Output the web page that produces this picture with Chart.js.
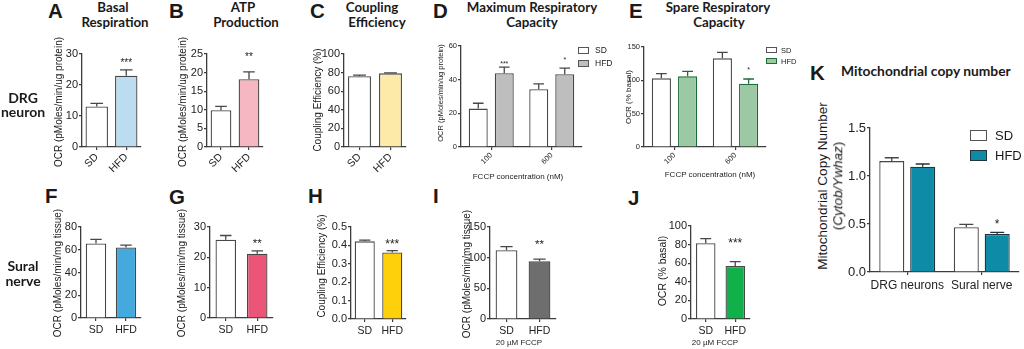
<!DOCTYPE html>
<html><head><meta charset="utf-8">
<script src="https://cdn.jsdelivr.net/npm/chart.js@4.4.1/dist/chart.umd.min.js"></script>
<style>
html,body{margin:0;padding:0;background:#fff;}
body{width:1024px;height:349px;position:relative;overflow:hidden;font-family:'Liberation Sans',Arial,sans-serif;color:#222;}
.t{position:absolute;white-space:nowrap;line-height:1;}
.r{position:absolute;white-space:nowrap;line-height:1;transform:translate(-50%,-50%) rotate(-90deg);}
.box{position:absolute;box-sizing:border-box;border:1px solid #555;}
canvas{position:absolute;}
</style></head><body>
<script>
// ---------- data ----------
const groupLabels = ['SD', 'HFD'];
const fccpLabels = ['100', '600'];
const tissueLabels = ['DRG neurons', 'Sural nerve'];

const drgBasal = [13.1, 23.0];
const drgBasalErr = [1.0, 1.9];
const drgATP = [9.9, 18.2];
const drgATPErr = [1.0, 2.0];
const drgCoupling = [76.2, 79.2];
const drgCouplingErr = [1.0, 0.6];
const drgMaxSD = [22.8, 34.3];
const drgMaxSDErr = [3.2, 3.2];
const drgMaxHFD = [43.8, 43.2];
const drgMaxHFDErr = [3.6, 3.6];
const drgSpareSD = [103, 133];
const drgSpareSDErr = [7, 9];
const drgSpareHFD = [106, 95];
const drgSpareHFDErr = [7.5, 7];

const suralBasal = [65.5, 62];
const suralBasalErr = [3.7, 2.0];
const suralATP = [25.8, 21.2];
const suralATPErr = [1.4, 0.9];
const suralCoupling = [0.422, 0.362];
const suralCouplingErr = [0.007, 0.010];
const suralMax = [112, 94];
const suralMaxErr = [6, 3.5];
const suralSpare = [81.4, 57];
const suralSpareErr = [5, 4.8];

const copySD = [1.155, 0.466];
const copySDErr = [0.035, 0.03];
const copyHFD = [1.097, 0.396];
const copyHFDErr = [0.028, 0.017];

// ---------- helpers ----------
const AX = '#3c3c3c';
function T(text, x, base, size, o = {}) {
  const d = document.createElement('div'); d.className = 't';
  const fam = o.fam || "'Liberation Sans'";
  const k = fam.includes('Lato') ? 0.887 : 0.847;
  d.style.fontFamily = fam; d.style.fontSize = size + 'px';
  d.style.fontWeight = o.w || 'normal'; d.style.color = o.c || '#1a1a1a';
  d.style.top = (base - k * size) + 'px';
  if (o.center) { d.style.left = (x - 200) + 'px'; d.style.width = '400px'; d.style.textAlign = 'center'; }
  else d.style.left = x + 'px';
  d.innerHTML = text; document.body.appendChild(d);
}
function R(text, cx, cy, size) {
  const d = document.createElement('div'); d.className = 'r';
  d.style.left = cx + 'px'; d.style.top = cy + 'px'; d.style.fontSize = size + 'px';
  d.style.color = '#1a1a1a';
  d.innerHTML = text; document.body.appendChild(d);
}
function B(x, y, w, h, bg, bd) {
  const d = document.createElement('div'); d.className = 'box';
  d.style.left = x + 'px'; d.style.top = y + 'px'; d.style.width = w + 'px'; d.style.height = h + 'px';
  d.style.background = bg; if (bd) d.style.borderColor = bd; document.body.appendChild(d);
}

function makeErrPlugin(p) {
  return {
    id: 'errs',
    afterDatasetsDraw(chart) {
      const ctx = chart.ctx, y = chart.scales.y;
      ctx.save();
      chart.data.datasets.forEach((ds, di) => {
        const meta = chart.getDatasetMeta(di);
        meta.data.forEach((bar, i) => {
          const v = ds.data[i], e = ds.errors[i];
          const y0 = y.getPixelForValue(v), y1 = y.getPixelForValue(v + e);
          const hw = bar.width * (p.cap || 0.28);
          ctx.strokeStyle = ds.borderColor; ctx.lineWidth = 1.3;
          ctx.beginPath();
          ctx.moveTo(bar.x, y0); ctx.lineTo(bar.x, y1);
          ctx.moveTo(bar.x - hw, y1); ctx.lineTo(bar.x + hw, y1);
          ctx.stroke();
        });
      });
      (p.sig || []).forEach(s => {
        const bar = chart.getDatasetMeta(s.ds).data[s.i];
        const py = y.getPixelForValue(s.at);
        const fs = p.sigSize || 11;
        ctx.fillStyle = '#222';
        ctx.font = fs + 'px "Liberation Sans"';
        ctx.textAlign = 'center'; ctx.textBaseline = 'alphabetic';
        ctx.fillText(s.text, bar.x, py + 0.57 * fs);
      });
      ctx.restore();
    }
  };
}

function panel(p) {
  const YW = 30, PT = 12, PR = 6, XH = p.xh;
  const w = p.right - p.ax + YW + PR, h = p.bottom - p.top + PT + XH;
  const c = document.createElement('canvas');
  c.width = w; c.height = h;
  c.style.left = (p.ax - YW) + 'px'; c.style.top = (p.top - PT) + 'px';
  c.style.width = w + 'px'; c.style.height = h + 'px';
  document.body.appendChild(c);
  new Chart(c, {
    type: 'bar',
    data: {
      labels: p.labels,
      datasets: p.sets.map(s => ({
        data: s.data, errors: s.err, backgroundColor: s.bg, borderColor: s.bd || '#474747',
        borderWidth: 1.3, borderSkipped: 'start', barPercentage: p.bp, categoryPercentage: p.cp
      }))
    },
    options: {
      responsive: false, animation: false, devicePixelRatio: 1,
      layout: { padding: { top: PT, right: PR, left: 0, bottom: 0 } },
      plugins: { legend: { display: false }, tooltip: { enabled: false } },
      scales: {
        x: {
          afterFit: s => { s.height = XH; },
          grid: { drawOnChartArea: false, offset: false, tickLength: 3, color: AX, lineWidth: 1.2 },
          border: { color: AX, width: 1.3 },
          ticks: { color: '#222', font: { family: 'Liberation Sans', size: p.xfs }, minRotation: p.rot, maxRotation: p.rot, autoSkip: false, padding: p.xpad ?? 1 }
        },
        y: {
          min: 0, max: p.max,
          afterFit: s => { s.width = YW; },
          grid: { drawOnChartArea: false, tickLength: 3, color: AX, lineWidth: 1.2 },
          border: { color: AX, width: 1.3 },
          ticks: { stepSize: p.step, color: '#222', font: { family: 'Liberation Sans', size: p.yfs }, padding: 1, callback: p.fmt || (v => v) }
        }
      }
    },
    plugins: [makeErrPlugin(p)]
  });
}
const f1 = v => v.toFixed(1);
const W = '#ffffff';

// ---------- row 1 ----------
panel({ ax: 82, right: 141, top: 54, bottom: 147, labels: groupLabels, max: 30, step: 10, yfs: 11, xfs: 10.5, rot: 45, xh: 30, bp: 0.76, cp: 1,
  sets: [{ data: drgBasal, err: drgBasalErr, bg: [W, '#bcdcf1'] }],
  sig: [{ ds: 0, i: 1, text: '***', at: 28 }], sigSize: 10 });
panel({ ax: 207, right: 263, top: 54, bottom: 147, labels: groupLabels, max: 25, step: 5, yfs: 11, xfs: 10.5, rot: 45, xh: 30, bp: 0.74, cp: 1,
  sets: [{ data: drgATP, err: drgATPErr, bg: [W, '#f6b6c2'] }],
  sig: [{ ds: 0, i: 1, text: '**', at: 25 }], sigSize: 10 });
panel({ ax: 344, right: 406, top: 54, bottom: 147, labels: groupLabels, max: 100, step: 20, yfs: 11, xfs: 10.5, rot: 45, xh: 30, bp: 0.74, cp: 1,
  sets: [{ data: drgCoupling, err: drgCouplingErr, bg: [W, '#fde9a8'] }] });
panel({ ax: 461, right: 582, top: 46, bottom: 147, labels: fccpLabels, max: 60, step: 20, yfs: 7.5, xfs: 7.5, rot: 45, xh: 26, bp: 0.73, cp: 0.86,
  sets: [{ data: drgMaxSD, err: drgMaxSDErr, bg: W }, { data: drgMaxHFD, err: drgMaxHFDErr, bg: '#bebebe' }],
  sig: [{ ds: 1, i: 0, text: '***', at: 50.7 }, { ds: 1, i: 1, text: '*', at: 53 }], sigSize: 7 });
panel({ ax: 644, right: 766, top: 47, bottom: 147, labels: fccpLabels, max: 150, step: 50, yfs: 7.5, xfs: 7.5, rot: 45, xh: 26, bp: 0.73, cp: 0.86,
  sets: [{ data: drgSpareSD, err: drgSpareSDErr, bg: W }, { data: drgSpareHFD, err: drgSpareHFDErr, bg: '#9dc8a4', bd: '#1d6a3a' }],
  sig: [{ ds: 1, i: 1, text: '*', at: 118.5 }], sigSize: 7 });

// ---------- row 2 ----------
panel({ ax: 81, right: 141, top: 227, bottom: 318, labels: groupLabels, max: 80, step: 20, yfs: 11, xfs: 10.5, rot: 0, xh: 20, xpad: 3, bp: 0.68, cp: 1,
  sets: [{ data: suralBasal, err: suralBasalErr, bg: [W, '#44a9dc'] }] });
panel({ ax: 210, right: 273, top: 227, bottom: 318, labels: groupLabels, max: 30, step: 10, yfs: 11, xfs: 10.5, rot: 0, xh: 20, xpad: 3, bp: 0.65, cp: 1,
  sets: [{ data: suralATP, err: suralATPErr, bg: [W, '#ea5578'] }],
  sig: [{ ds: 0, i: 1, text: '**', at: 25.7 }], sigSize: 11.5 });
panel({ ax: 351, right: 406, top: 227, bottom: 319, labels: groupLabels, max: 0.5, step: 0.1, yfs: 11, xfs: 10.5, rot: 0, xh: 20, xpad: 3, bp: 0.73, cp: 1, fmt: f1,
  sets: [{ data: suralCoupling, err: suralCouplingErr, bg: [W, '#fed00c'] }],
  sig: [{ ds: 0, i: 1, text: '***', at: 0.424 }], sigSize: 12 });
panel({ ax: 490, right: 556, top: 227, bottom: 319, labels: groupLabels, max: 150, step: 50, yfs: 11, xfs: 10.5, rot: 0, xh: 20, xpad: 3, bp: 0.66, cp: 1,
  sets: [{ data: suralMax, err: suralMaxErr, bg: [W, '#6e6e6e'] }],
  sig: [{ ds: 0, i: 1, text: '**', at: 127 }], sigSize: 11.5 });
panel({ ax: 691, right: 750, top: 226, bottom: 319, labels: groupLabels, max: 100, step: 20, yfs: 11, xfs: 10.5, rot: 0, xh: 20, xpad: 3, bp: 0.66, cp: 1,
  sets: [{ data: suralSpare, err: suralSpareErr, bg: [W, '#12b04b'] }],
  sig: [{ ds: 0, i: 1, text: '***', at: 85 }], sigSize: 12 });

// ---------- K ----------
panel({ ax: 870, right: 1019, top: 128, bottom: 272, labels: tissueLabels, max: 1.5, step: 0.5, yfs: 13, xfs: 12, rot: 0, xh: 22, xpad: 3, bp: 0.81, cp: 0.83, fmt: f1,
  sets: [{ data: copySD, err: copySDErr, bg: W }, { data: copyHFD, err: copyHFDErr, bg: '#0e8ba6', bd: '#24343c' }],
  sig: [{ ds: 1, i: 1, text: '*', at: 0.53 }], sigSize: 12 });

// ---------- text ----------
const LB = { fam: "'Liberation Sans'", w: 'bold' };
[['A', 48, 18], ['B', 169, 18], ['C', 310, 18], ['D', 433, 18], ['E', 629, 18], ['K', 810, 80],
 ['F', 45, 203], ['G', 169, 204], ['H', 308, 203], ['I', 433, 203], ['J', 628, 205]]
  .forEach(([t, x, b]) => T(t, x, b, 20.5, LB));

const TL = { fam: 'Lato', w: 'bold', center: true };
T('Basal', 113, 13, 13.3, TL); T('Respiration', 115, 28, 13.3, TL);
T('ATP', 243, 13, 13.3, TL); T('Production', 246, 28, 13.3, TL);
T('Coupling', 372, 13, 13.3, TL); T('Efficiency', 377, 28, 13.3, TL);
T('Maximum Respiratory', 532, 13, 13.3, TL); T('Capacity', 532, 28, 13.3, TL);
T('Spare Respiratory', 718, 13, 13.3, TL); T('Capacity', 719, 28, 13.3, TL);
T('Mitochondrial copy number', 841, 76, 13.8, { fam: 'Lato', w: 'bold' });

T('DRG', 23, 103, 14, TL); T('neuron', 23, 117, 14, TL);
T('Sural', 23, 271, 14, TL); T('nerve', 23, 286, 14, TL);

R('OCR (pMoles/min/ug protein)', 59, 102, 10);
R('OCR (pMoles/min/ug protein)', 183, 102, 10);
R('Coupling Efficiency (%)', 318, 100, 10);
R('OCR (pMoles/min/ug protein)', 441, 93, 7.5);
R('OCR (% basal)', 629, 97, 8);
R('OCR (pMoles/min/mg tissue)', 58, 273, 10);
R('OCR (pMoles/min/mg tissue)', 182, 273, 10);
R('Coupling Efficiency (%)', 322, 266, 10);
R('OCR (pMoles/min/mg tissue)', 467, 274, 10);
R('OCR (% basal)', 662, 271, 10.5);
R('Mitochondrial Copy Number', 823, 186, 13.5);
R('(<i>Cytob/Ywhaz</i>)', 838, 186, 13.5);

T('FCCP concentration (nM)', 518, 180, 8, { center: true });
T('FCCP concentration (nM)', 710, 178, 8, { center: true });
T('20 µM FCCP', 519, 346, 8, { center: true });
T('20 µM FCCP', 715, 346, 8, { center: true });

// legends
B(578, 47, 11, 7, W); B(578, 60, 11, 7, '#bebebe');
T('SD', 595, 53.5, 8.5); T('HFD', 595, 66.5, 8.5);
B(766, 47, 11, 6, W); B(766, 58, 11, 6, '#9dc8a4', '#1d6a3a');
T('SD', 781, 53, 7.5); T('HFD', 781, 64, 7.5);
B(970, 130, 17, 11, W); B(970, 150, 17, 11, '#0e8ba6', '#24343c');
T('SD', 995, 140, 13); T('HFD', 995, 160, 13);
</script>
</body></html>
